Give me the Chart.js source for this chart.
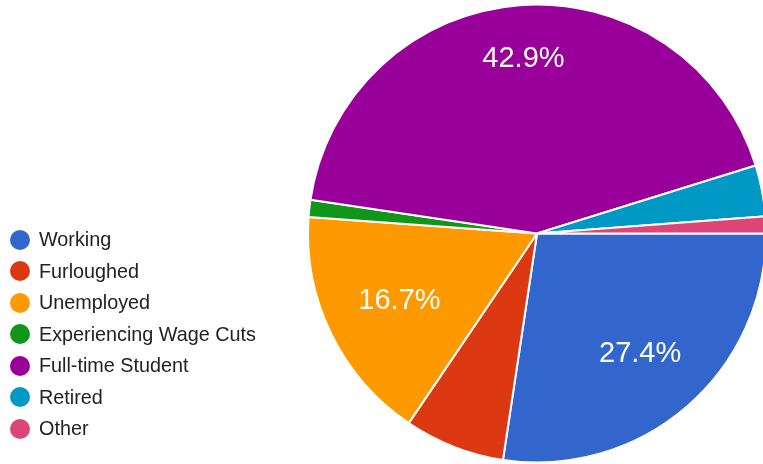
<!DOCTYPE html>
<html>
<head>
<meta charset="utf-8">
<script src="https://cdn.jsdelivr.net/npm/chart.js@4/dist/chart.umd.min.js"></script>
<style>
  html, body { margin: 0; padding: 0; background: #fff; overflow: hidden; }
  #wrap { position: absolute; left: 0; top: 0; width: 763px; height: 464px; }
  #legend { position: absolute; left: 10px; top: 223.75px; margin: 0; padding: 0; list-style: none;
            font-family: "Liberation Sans", Arial, sans-serif; font-size: 19.8px; color: #222; }
  #legend li { height: 31.5px; display: flex; align-items: center; white-space: nowrap; }
  #legend .dot { width: 20px; height: 20px; border-radius: 50%; margin-right: 9px; flex: none; }
</style>
</head>
<body>
<div id="wrap"><canvas id="c" width="763" height="464"></canvas></div>
<ul id="legend"></ul>
<script>
const categories = ["Working", "Furloughed", "Unemployed", "Experiencing Wage Cuts", "Full-time Student", "Retired", "Other"];
const percentages = [27.4, 7.1, 16.7, 1.2, 42.9, 3.6, 1.2];
const colors = ["#3366cc", "#dc3912", "#ff9900", "#109618", "#990099", "#0099c6", "#dd4477"];

// HTML legend built from the arrays
const legendEl = document.getElementById('legend');
categories.forEach((name, i) => {
  const li = document.createElement('li');
  const dot = document.createElement('span');
  dot.className = 'dot';
  dot.style.background = colors[i];
  li.appendChild(dot);
  li.appendChild(document.createTextNode(name));
  legendEl.appendChild(li);
});

const FONT = '29px "Liberation Sans", Arial, sans-serif';

const sliceLabels = {
  id: 'sliceLabels',
  afterDatasetsDraw(chart) {
    const ctx = chart.ctx;
    const meta = chart.getDatasetMeta(0);
    const data = chart.data.datasets[0].data;
    ctx.save();
    ctx.font = FONT;
    ctx.fillStyle = '#ffffff';
    ctx.textAlign = 'center';
    ctx.textBaseline = 'middle';
    meta.data.forEach((arc, i) => {
      const v = data[i];
      if (v < 10) return;
      const p = arc.getProps(['x', 'y', 'startAngle', 'endAngle', 'outerRadius'], true);
      const mid = (p.startAngle + p.endAngle) / 2;
      const c = Math.cos(mid), s = Math.sin(mid);
      const text = v.toFixed(1) + '%';
      const w = ctx.measureText(text).width;
      const h = 29 * 0.8;
      const a = Math.sign(c) * w / 2, b = Math.sign(s) * h / 2;
      const D = p.outerRadius * 0.852;
      const k = c * a + s * b;
      const d = -k + Math.sqrt(k * k - (a * a + b * b - D * D));
      ctx.fillText(text, p.x + d * c, p.y + d * s + 1);
    });
    ctx.restore();
  }
};

new Chart(document.getElementById('c'), {
  type: 'pie',
  data: {
    labels: categories,
    datasets: [{
      data: percentages,
      backgroundColor: colors,
      borderColor: '#ffffff',
      borderWidth: 2,
      radius: 229
    }]
  },
  options: {
    responsive: false,
    animation: false,
    rotation: 90,
    layout: { padding: { left: 311, right: 0, top: 3, bottom: 0 } },
    plugins: {
      legend: { display: false },
      tooltip: { enabled: false }
    }
  },
  plugins: [sliceLabels]
});
</script>
</body>
</html>
